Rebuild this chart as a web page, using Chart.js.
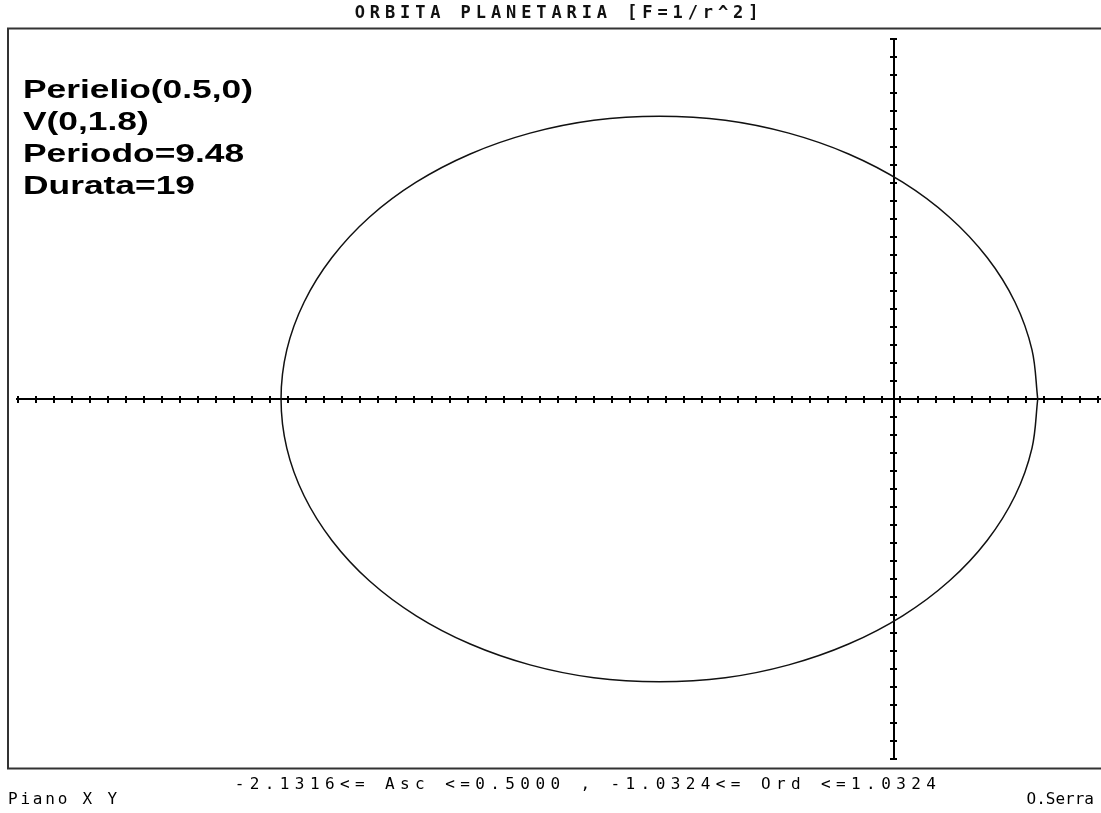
<!DOCTYPE html>
<html>
<head>
<meta charset="utf-8">
<title>Orbita planetaria</title>
<script src="https://cdn.jsdelivr.net/npm/chart.js@4.4.0/dist/chart.umd.min.js"></script>
<style>
  html, body { margin: 0; padding: 0; background: #fff; }
  #wrap { width: 1101px; height: 813px; position: relative; }
</style>
</head>
<body>
<div id="wrap"><canvas id="orbitChart"></canvas></div>
<script>
const titleText = 'ORBITA PLANETARIA [F=1/r^2]';
const infoLines = ['Perielio(0.5,0)', 'V(0,1.8)', 'Periodo=9.48', 'Durata=19'];
const rangeText = '-2.1316<= Asc <=0.5000 , -1.0324<= Ord <=1.0324';
const planeLabel = 'Piano X Y';
const authorLabel = 'O.Serra';

// orbit points, going round from the perihelion
const orbitX = [0.500, 0.480, 0.421, 0.324, 0.192, 0.030, -0.158, -0.366, -0.587,
  -0.816, -1.044, -1.266, -1.474, -1.662, -1.824, -1.955, -2.052, -2.112,
  -2.132, -2.112, -2.052, -1.955, -1.824, -1.662, -1.474, -1.266, -1.044,
  -0.816, -0.587, -0.366, -0.158, 0.030, 0.192, 0.324, 0.421, 0.480, 0.500];
const orbitY = [0, 0.179, 0.353, 0.516, 0.664, 0.791, 0.894, 0.970, 1.017,
  1.032, 1.017, 0.970, 0.894, 0.791, 0.664, 0.516, 0.353, 0.179,
  0, -0.179, -0.353, -0.516, -0.664, -0.791, -0.894, -0.970, -1.017,
  -1.032, -1.017, -0.970, -0.894, -0.791, -0.664, -0.516, -0.353, -0.179, 0];

// visible window and tick spacing of the axes
const xRange = [-3.0504, 0.72];
const yRange = [-1.3135, 1.3135];
const xTickStep = 0.06261;
const yTickStep = 0.06567;
const xTickPhase = 0.0407; // x ticks are not lined up on the origin

const tickAxis = (axis, pos, range, step, len, showLine) => ({
  type: 'linear',
  axis,
  position: pos,
  min: range[0],
  max: range[1],
  grid: { display: true, drawOnChartArea: false, drawTicks: true, tickLength: len, color: '#000', lineWidth: 2 },
  border: { display: showLine, color: '#000', width: 2 },
  ticks: { display: false, stepSize: step, includeBounds: false }
});

const xTickRange = [xRange[0] + xTickPhase, xRange[1] + xTickPhase];

const annotate = {
  id: 'annotate',
  beforeDraw(chart) {
    // wide letters for the title
    chart.ctx.letterSpacing = '4.9px';
  },
  beforeDatasetsDraw(chart) {
    chart.ctx.letterSpacing = '0px';
  },
  afterDraw(chart) {
    const { ctx, chartArea: a } = chart;
    ctx.save();
    ctx.strokeStyle = '#333';
    ctx.lineWidth = 2;
    ctx.strokeRect(a.left - 9, a.top - 10.5, a.right - a.left + 12, a.bottom - a.top + 20);

    // stretched bold notes in the top left corner
    ctx.fillStyle = '#000';
    ctx.font = 'bold 26px "Liberation Sans", Arial, sans-serif';
    ctx.textAlign = 'left';
    ctx.textBaseline = 'alphabetic';
    infoLines.forEach((t, i) => {
      ctx.save();
      ctx.translate(23, 98 + i * 32);
      ctx.scale(1.36, 1);
      ctx.fillText(t, 0, 0);
      ctx.restore();
    });

    ctx.font = '16px "DejaVu Sans Mono", monospace';
    ctx.textBaseline = 'middle';
    ctx.letterSpacing = '5.4px';
    ctx.textAlign = 'center';
    ctx.fillText(rangeText, 588, 785);
    ctx.letterSpacing = '2.8px';
    ctx.textAlign = 'left';
    ctx.fillText(planeLabel, 8, 800);
    ctx.letterSpacing = '0px';
    ctx.textAlign = 'right';
    ctx.fillText(authorLabel, 1094, 800);
    ctx.restore();
  }
};

new Chart(document.getElementById('orbitChart'), {
  type: 'scatter',
  data: {
    datasets: [{
      label: 'Orbita',
      data: orbitX.map((x, i) => ({ x, y: orbitY[i] })),
      showLine: true,
      borderColor: '#111',
      borderWidth: 1.5,
      pointRadius: 0,
      tension: 0.35,
      fill: false
    }]
  },
  options: {
    responsive: true,
    maintainAspectRatio: false,
    animation: false,
    devicePixelRatio: 1,
    layout: { padding: { left: 17, right: 0, top: 0, bottom: 54 } },
    plugins: {
      legend: { display: false },
      tooltip: { enabled: false },
      title: {
        display: true,
        text: titleText,
        color: '#111',
        font: { family: 'DejaVu Sans Mono', size: 17, weight: 'bold', lineHeight: 1 },
        padding: { top: 5, bottom: 17 }
      }
    },
    scales: {
      x: { type: 'linear', display: false, min: xRange[0], max: xRange[1] },
      y: { type: 'linear', display: false, min: yRange[0], max: yRange[1] },
      xAxisBelow: tickAxis('x', { y: 0 }, xTickRange, xTickStep, 3, true),
      xAxisAbove: tickAxis('x', { y: 0 }, xTickRange, xTickStep, -3, false),
      yAxisLeft: tickAxis('y', { x: 0 }, yRange, yTickStep, 3, true),
      yAxisRight: tickAxis('y', { x: 0 }, yRange, yTickStep, -3, false)
    }
  },
  plugins: [annotate]
});
</script>
</body>
</html>
